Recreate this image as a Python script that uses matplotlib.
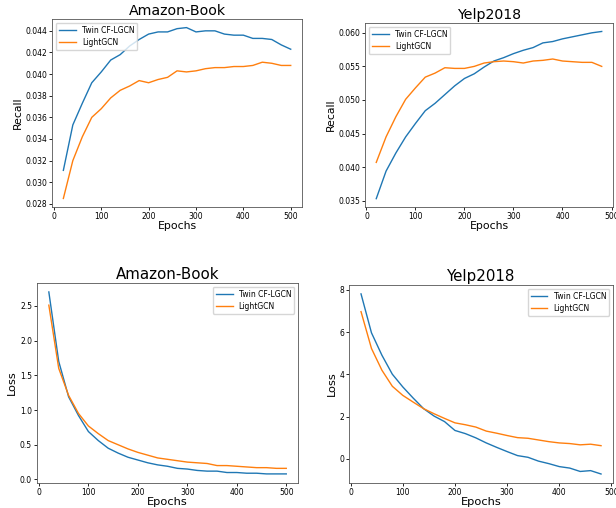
import matplotlib.pyplot as plt

# 数据
epochs_amazon = list(range(20, 501, 20))
epochs_yelp = list(range(20, 481, 20))

amazon_recall_twin = [0.0311, 0.0353, 0.0373, 0.0392, 0.0402, 0.0413, 0.0418, 0.0426, 0.0432,
                      0.0437, 0.0439, 0.0439, 0.0442, 0.0443, 0.0439, 0.0440, 0.0440, 0.0437,
                      0.0436, 0.0436, 0.0433, 0.0433, 0.0432, 0.0427, 0.0423]
amazon_recall_light = [0.0285, 0.0320, 0.0342, 0.0360, 0.0368, 0.0378, 0.0385, 0.0389, 0.0394,
                       0.0392, 0.0395, 0.0397, 0.0403, 0.0402, 0.0403, 0.0405, 0.0406, 0.0406,
                       0.0407, 0.0407, 0.0408, 0.0411, 0.0410, 0.0408, 0.0408]

yelp_recall_twin = [0.0353, 0.0394, 0.0421, 0.0445, 0.0465, 0.0484, 0.0495, 0.0508, 0.0521,
                    0.0532, 0.0539, 0.0549, 0.0558, 0.0563, 0.0569, 0.0574, 0.0578, 0.0585,
                    0.0587, 0.0591, 0.0594, 0.0597, 0.0600, 0.0602]
yelp_recall_light = [0.0407, 0.0445, 0.0475, 0.0501, 0.0518, 0.0534, 0.0540, 0.0548, 0.0547,
                     0.0547, 0.0550, 0.0555, 0.0557, 0.0558, 0.0557, 0.0555, 0.0558, 0.0559,
                     0.0561, 0.0558, 0.0557, 0.0556, 0.0556, 0.0550]

amazon_loss_twin = [2.70, 1.70, 1.19, 0.92, 0.69, 0.56, 0.45, 0.38, 0.32, 0.28, 0.24, 0.21, 0.19,
                    0.16, 0.15, 0.13, 0.12, 0.12, 0.10, 0.10, 0.09, 0.09, 0.08, 0.08, 0.08]
amazon_loss_light = [2.51, 1.60, 1.21, 0.95, 0.77, 0.66, 0.56, 0.50, 0.44, 0.39, 0.35, 0.31, 0.29,
                     0.27, 0.25, 0.24, 0.23, 0.20, 0.20, 0.19, 0.18, 0.17, 0.17, 0.16, 0.16]

yelp_loss_twin = [7.81, 5.97, 4.91, 4.01, 3.41, 2.88, 2.38, 2.03, 1.77, 1.35, 1.20, 1.00, 0.76,
                  0.55, 0.35, 0.16, 0.08, -0.10, -0.22, -0.36, -0.43, -0.59, -0.55, -0.71]
yelp_loss_light = [6.97, 5.23, 4.20, 3.44, 3.01, 2.69, 2.38, 2.14, 1.92, 1.71, 1.62, 1.51, 1.32,
                   1.22, 1.11, 1.01, 0.98, 0.90, 0.82, 0.76, 0.73, 0.67, 0.70, 0.63]

labels = ['Twin CF-LGCN', 'LightGCN']

fig = plt.figure(figsize=(6.16, 5.08), dpi=100)

# 四个子图的位置（每个子图相当于单独的图片拼接）
panels = [
    ([0.0844, 0.5925, 0.406, 0.370], epochs_amazon, amazon_recall_twin, amazon_recall_light,
     'Amazon-Book', 'Recall', 'upper left', 10.2, 7.8),
    ([0.5925, 0.5925, 0.4026, 0.362], epochs_yelp, yelp_recall_twin, yelp_recall_light,
     'Yelp2018', 'Recall', 'upper left', 10.2, 7.8),
    ([0.060, 0.0492, 0.424, 0.394], epochs_amazon, amazon_loss_twin, amazon_loss_light,
     'Amazon-Book', 'Loss', 'upper right', 10.8, 8.2),
    ([0.5666, 0.0492, 0.4286, 0.390], epochs_yelp, yelp_loss_twin, yelp_loss_light,
     'Yelp2018', 'Loss', 'upper right', 10.8, 8.2),
]

for rect, x, twin, light, title, ylabel, loc, tsize, lsize in panels:
    ax = fig.add_axes(rect)
    ax.plot(x, twin, color='#1f77b4', linewidth=1.0, label=labels[0])
    ax.plot(x, light, color='#ff7f0e', linewidth=1.0, label=labels[1])
    ax.set_title(title, fontsize=tsize, pad=3)
    ax.set_xlabel('Epochs', fontsize=lsize, labelpad=0)
    ax.set_ylabel(ylabel, fontsize=lsize, labelpad=2)
    ax.tick_params(labelsize=5.5, length=2, pad=1.5, width=0.6)
    ax.set_xticks([0, 100, 200, 300, 400, 500])
    for s in ax.spines.values():
        s.set_linewidth(0.6)
        s.set_color('#555555')
    ax.legend(loc=loc, fontsize=5.5, handlelength=2.2, borderpad=0.4, labelspacing=0.4)

ax_list = fig.axes
ax_list[0].set_yticks([0.028 + 0.002 * i for i in range(9)])
ax_list[0].yaxis.set_major_formatter(plt.FormatStrFormatter('%.3f'))
ax_list[1].set_yticks([0.035 + 0.005 * i for i in range(6)])
ax_list[1].yaxis.set_major_formatter(plt.FormatStrFormatter('%.3f'))
ax_list[2].set_yticks([0.0, 0.5, 1.0, 1.5, 2.0, 2.5])
ax_list[3].set_yticks([0, 2, 4, 6, 8])
ax_list[3].set_xlim(-3, 503)

plt.savefig('out.png', dpi=100)
